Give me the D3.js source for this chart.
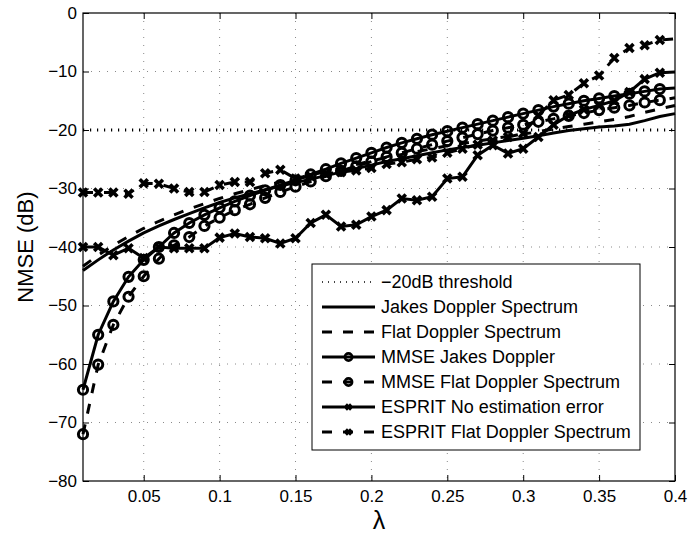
<!DOCTYPE html>
<html>
<head>
<meta charset="utf-8">
<script src="https://cdn.jsdelivr.net/npm/d3@7"></script>
<style>
body { margin: 0; background: #fff; }
text { font-family: "Liberation Sans", Arial, sans-serif; fill: #000; }
</style>
</head>
<body>
<svg id="chart" width="700" height="536"></svg>
<script>
// lambda values (x)
var lambda = [0.01,0.02,0.03,0.04,0.05,0.06,0.07,0.08,0.09,0.10,
              0.11,0.12,0.13,0.14,0.15,0.16,0.17,0.18,0.19,0.20,
              0.21,0.22,0.23,0.24,0.25,0.26,0.27,0.28,0.29,0.30,
              0.31,0.32,0.33,0.34,0.35,0.36,0.37,0.38,0.39,0.40];

var jakes = [-44.0,-42.2,-40.5,-39.0,-37.6,-36.4,-35.3,-34.3,-33.3,-32.4,
             -31.6,-30.9,-30.2,-29.6,-29.0,-28.4,-27.8,-27.2,-26.6,-26.0,
             -25.4,-24.9,-24.4,-23.9,-23.4,-23.0,-22.6,-22.2,-21.8,-21.4,
             -21.0,-20.5,-20.1,-19.8,-19.5,-19.3,-19.0,-18.4,-17.7,-17.2];

var flat = [-43.3,-41.4,-39.7,-38.2,-36.8,-35.6,-34.5,-33.5,-32.6,-31.7,
            -30.9,-30.2,-29.5,-28.9,-28.3,-27.7,-27.1,-26.5,-25.9,-25.3,
            -24.7,-24.2,-23.7,-23.2,-22.7,-22.3,-21.9,-21.5,-21.1,-20.7,
            -20.3,-19.8,-19.4,-19.0,-18.6,-18.2,-17.7,-17.0,-16.4,-15.8];

var mmseJakes = [-64.4,-55.0,-49.3,-45.1,-42.2,-40.0,-37.6,-35.9,-34.5,-33.3,
                 -32.2,-31.2,-30.3,-29.4,-28.6,-27.6,-26.7,-25.7,-24.8,-23.9,
                 -23.0,-22.2,-21.5,-20.8,-20.2,-19.6,-19.0,-18.4,-17.8,-17.2,
                 -16.6,-16.0,-15.5,-15.0,-14.6,-14.2,-13.8,-13.4,-13.0,-12.8];

var mmseFlat = [-72.0,-60.1,-53.3,-48.5,-45.0,-42.0,-39.7,-38.3,-36.4,-35.0,
                -33.7,-32.7,-31.6,-30.6,-29.7,-28.8,-27.9,-27.0,-26.2,-25.4,
                -24.6,-23.9,-23.2,-22.5,-21.9,-21.3,-20.7,-20.1,-19.6,-19.1,
                -18.6,-18.1,-17.6,-17.1,-16.6,-16.2,-15.8,-15.3,-14.9,-14.5];

var espritNoErr = [-40.0,-40.0,-41.4,-40.2,-41.9,-40.0,-40.2,-40.2,-40.2,-38.4,
                   -37.7,-38.3,-38.5,-39.4,-38.5,-35.9,-34.5,-36.5,-36.2,-34.8,
                   -33.7,-31.7,-32.0,-31.4,-28.3,-28.0,-24.3,-22.6,-24.0,-23.2,
                   -21.2,-19.1,-17.5,-16.5,-15.8,-15.0,-13.5,-11.3,-10.2,-10.1];

var espritFlat = [-30.7,-30.7,-30.7,-30.9,-29.1,-29.2,-30.0,-30.6,-30.6,-29.4,
                  -28.9,-28.9,-27.4,-26.8,-28.3,-27.9,-27.5,-27.2,-26.9,-26.5,
                  -25.8,-25.5,-25.0,-24.7,-23.9,-23.2,-22.5,-21.8,-21.2,-20.6,
                  -17.5,-14.9,-14.0,-12.0,-10.7,-7.7,-6.0,-5.5,-4.6,-4.4];

var threshold = -20;
var xTicks = [0.05,0.1,0.15,0.2,0.25,0.3,0.35,0.4];
var yTicks = [0,-10,-20,-30,-40,-50,-60,-70,-80];

var series = [
  {name: "Jakes Doppler Spectrum", values: jakes, dash: null, marker: null},
  {name: "Flat Doppler Spectrum", values: flat, dash: "10,11", marker: null},
  {name: "MMSE Jakes Doppler", values: mmseJakes, dash: null, marker: "o"},
  {name: "MMSE Flat Doppler Spectrum", values: mmseFlat, dash: "10,11", marker: "o"},
  {name: "ESPRIT No estimation error", values: espritNoErr, dash: null, marker: "x"},
  {name: "ESPRIT Flat Doppler Spectrum", values: espritFlat, dash: "10,11", marker: "x"}
];

var svg = d3.select("#chart");
var margin = {left: 83, right: 25, top: 13, bottom: 55};
var width = 700 - margin.left - margin.right;
var height = 536 - margin.top - margin.bottom;

var x = d3.scaleLinear().domain([0.01, 0.4]).range([0, width]);
var y = d3.scaleLinear().domain([-80, 0]).range([height, 0]);

var g = svg.append("g")
    .attr("transform", "translate(" + margin.left + "," + margin.top + ")");

// grid
g.append("g").selectAll("line")
    .data(xTicks.filter(d => d < 0.4))
    .enter().append("line")
      .attr("x1", d => x(d)).attr("x2", d => x(d))
      .attr("y1", 0).attr("y2", height)
      .attr("stroke", "#8a8a8a")
      .attr("stroke-dasharray", "1,7");

g.append("g").selectAll("line")
    .data(yTicks.filter(d => d > -80 && d < 0 && d != threshold))
    .enter().append("line")
      .attr("x1", 0).attr("x2", width)
      .attr("y1", d => y(d)).attr("y2", d => y(d))
      .attr("stroke", "#8a8a8a")
      .attr("stroke-dasharray", "1,7");

// threshold
g.append("line")
    .attr("x1", 0).attr("x2", width)
    .attr("y1", y(threshold)).attr("y2", y(threshold))
    .attr("stroke", "#000")
    .attr("stroke-width", 3)
    .attr("stroke-dasharray", "1.2,5.8");

var line = d3.line()
    .x((d, i) => x(lambda[i]))
    .y(d => y(d));

function drawMarker(sel, type, size, sw) {
  if (type == "o") {
    sel.append("circle")
      .attr("r", size)
      .attr("fill", "none")
      .attr("stroke", "#000")
      .attr("stroke-width", sw);
  } else if (type == "x") {
    var s = size;
    sel.append("path")
      .attr("d", "M" + (-s) + "," + (-s) + "L" + s + "," + s + "M" + (-s) + "," + s + "L" + s + "," + (-s))
      .attr("fill", "none")
      .attr("stroke", "#000")
      .attr("stroke-width", sw);
  }
}

series.forEach(function(s) {
  g.append("path")
    .datum(s.values)
    .attr("fill", "none")
    .attr("stroke", "#000")
    .attr("stroke-width", 3)
    .attr("stroke-dasharray", s.dash)
    .attr("d", line);

  if (s.marker) {
    // markers stop one step before the end of the line
    g.append("g").selectAll("g")
      .data(s.values.slice(0, s.values.length - 1))
      .enter().append("g")
        .attr("transform", (d, i) => "translate(" + x(lambda[i]) + "," + y(d) + ")")
        .each(function() {
          if (s.marker == "o") drawMarker(d3.select(this), "o", 4.6, 3);
          else drawMarker(d3.select(this), "x", 4, 3.6);
        });
  }
});

// frame + axes (ticks inside)
g.append("rect")
    .attr("width", width).attr("height", height)
    .attr("fill", "none").attr("stroke", "#000").attr("stroke-width", 1.2);

g.append("g")
    .attr("transform", "translate(0," + height + ")")
    .call(d3.axisBottom(x).tickValues(xTicks).tickSizeInner(-6).tickSizeOuter(0).tickPadding(9)
      .tickFormat(d => d3.format("")(+d.toFixed(2))));
g.append("g")
    .call(d3.axisLeft(y).tickValues(yTicks).tickSizeInner(-6).tickSizeOuter(0).tickPadding(6)
      .tickFormat(d => d < 0 ? "\u2212" + Math.abs(d) : d));
g.append("g")
    .call(d3.axisTop(x).tickValues(xTicks).tickSizeInner(-6).tickSizeOuter(0).tickFormat(""));
g.append("g")
    .attr("transform", "translate(" + width + ",0)")
    .call(d3.axisRight(y).tickValues(yTicks).tickSizeInner(-6).tickSizeOuter(0).tickFormat(""));

g.selectAll(".domain").remove();
g.selectAll(".tick line").attr("stroke", "#000").attr("stroke-width", 1);
g.selectAll(".tick text").attr("font-size", 17).attr("font-family", "Liberation Sans, Arial, sans-serif");

// axis labels
svg.append("text")
    .attr("transform", "translate(33,247) rotate(-90)")
    .attr("text-anchor", "middle")
    .attr("font-size", 22)
    .text("NMSE (dB)");

svg.append("text")
    .attr("x", margin.left + width / 2)
    .attr("y", 529)
    .attr("text-anchor", "middle")
    .attr("font-size", 25)
    .text("\u03bb");

// legend
var legend = svg.append("g").attr("transform", "translate(312,264)");
legend.append("rect")
    .attr("width", 328).attr("height", 186)
    .attr("fill", "#fff").attr("stroke", "#000").attr("stroke-width", 1);

var legendItems = [{name: "\u221220dB threshold", dash: "1,5", marker: null, thr: true}].concat(series);

var rows = legend.selectAll("g.row")
    .data(legendItems)
    .enter().append("g")
      .attr("class", "row")
      .attr("transform", (d, i) => "translate(0," + (18 + i * 25) + ")");

rows.append("line")
    .attr("x1", 10).attr("x2", 63)
    .attr("stroke", d => d.thr ? "#444" : "#000")
    .attr("stroke-width", d => d.thr ? 2 : 3)
    .attr("stroke-dasharray", d => d.dash);

rows.each(function(d) {
  if (d.marker) {
    var m = d3.select(this).append("g").attr("transform", "translate(36.5,0)");
    if (d.marker == "o") drawMarker(m, "o", 3.6, 2.6);
    else drawMarker(m, "x", 2.6, 3);
  }
});

rows.append("text")
    .attr("x", 69)
    .attr("dy", "0.35em")
    .attr("font-size", 18)
    .text(d => d.name);
</script>
</body>
</html>
